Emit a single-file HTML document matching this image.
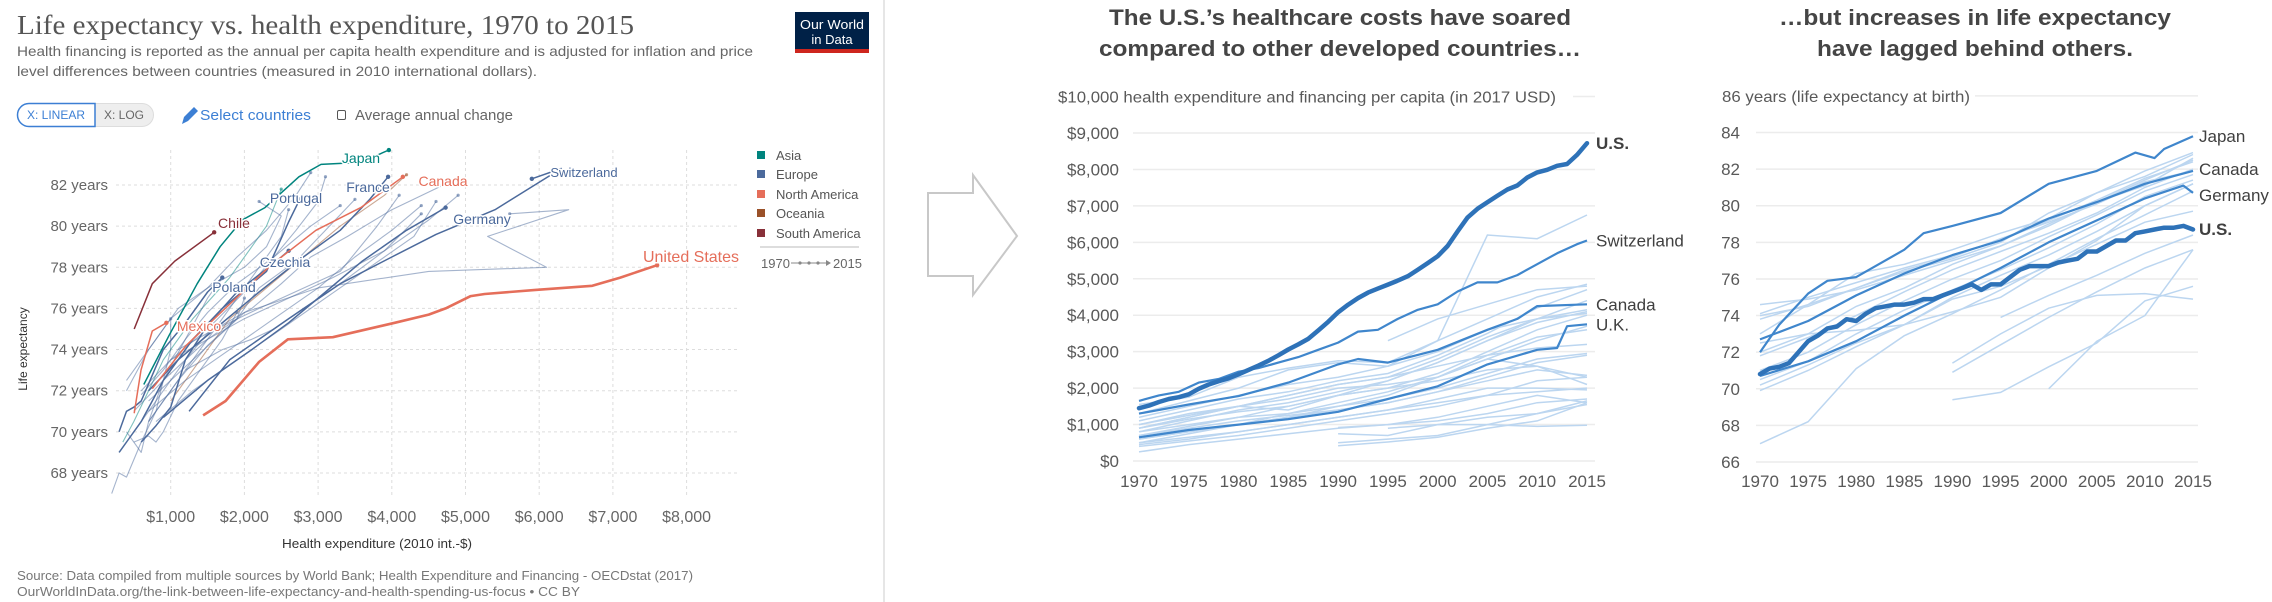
<!DOCTYPE html>
<html><head><meta charset="utf-8"><style>
html,body{margin:0;padding:0;background:#fff;overflow:hidden;width:2272px;height:602px;}
svg{display:block;font-family:"Liberation Sans",sans-serif;}
</style></head><body>
<svg id="root" width="2272" height="602" viewBox="0 0 2272 602" xmlns="http://www.w3.org/2000/svg">
<defs><clipPath id="leftClip"><rect x="100" y="140" width="650" height="362"/></clipPath></defs>
<!-- LEFT PANEL -->
<g>
<text x="17" y="34" font-family="Liberation Serif,serif" font-size="27" fill="#555" textLength="617" lengthAdjust="spacingAndGlyphs">Life expectancy vs. health expenditure, 1970 to 2015</text>
<text x="17" y="56" font-size="14" fill="#666" textLength="736" lengthAdjust="spacingAndGlyphs">Health financing is reported as the annual per capita health expenditure and is adjusted for inflation and price</text>
<text x="17" y="76" font-size="14" fill="#666" textLength="520" lengthAdjust="spacingAndGlyphs">level differences between countries (measured in 2010 international dollars).</text>
<g><rect x="795" y="12" width="74" height="41" fill="#002147"/><rect x="795" y="49" width="74" height="4" fill="#ce261e"/>
<text x="832" y="29" font-size="13" fill="#fff" text-anchor="middle" textLength="64" lengthAdjust="spacingAndGlyphs">Our World</text><text x="832" y="44" font-size="13" fill="#fff" text-anchor="middle">in Data</text></g>
<g><rect x="17.5" y="103.5" width="136" height="23" rx="11.5" fill="#eee" stroke="#ddd"/><path d="M29 103.5 H95 V126.5 H29 A11.5 11.5 0 0 1 29 103.5Z" fill="#fff" stroke="#3c7fd4" stroke-width="1.5"/><text x="56" y="119" font-size="11.5" fill="#3c7fd4" text-anchor="middle" textLength="58" lengthAdjust="spacingAndGlyphs">X: LINEAR</text></g>
<g><text x="124" y="119" font-size="11.5" fill="#666" text-anchor="middle" textLength="40" lengthAdjust="spacingAndGlyphs">X: LOG</text></g>
<g><path d="M182 124 L184 117 L194 107 L198 111 L188 121 Z" fill="#3c7fd4"/><text x="200" y="120" font-size="15" fill="#3c7fd4" textLength="111" lengthAdjust="spacingAndGlyphs">Select countries</text></g>
<g><rect x="337.5" y="110.5" width="8" height="9" rx="1.5" fill="none" stroke="#555"/><text x="355" y="120" font-size="15" fill="#666" textLength="158" lengthAdjust="spacingAndGlyphs">Average annual change</text></g>
<g id="leftAxes"></g>
<g id="leftPlot" clip-path="url(#leftClip)"></g>
<g id="leftLabels"></g>
<g>
<rect x="757" y="151" width="8" height="8" fill="#00847e"/><text x="776" y="160" font-size="13" fill="#555">Asia</text>
<rect x="757" y="170" width="8" height="8" fill="#4c6a9c"/><text x="776" y="179" font-size="13" fill="#555">Europe</text>
<rect x="757" y="190" width="8" height="8" fill="#e56e5a"/><text x="776" y="199" font-size="13" fill="#555">North America</text>
<rect x="757" y="209" width="8" height="8" fill="#9a5129"/><text x="776" y="218" font-size="13" fill="#555">Oceania</text>
<rect x="757" y="229" width="8" height="8" fill="#883039"/><text x="776" y="238" font-size="13" fill="#555">South America</text>
<line x1="760" y1="247" x2="859" y2="247" stroke="#ddd" stroke-width="2"/>
<text x="761" y="268" font-size="13" fill="#666">1970</text><line x1="791" y1="263" x2="826" y2="263" stroke="#888"/><path d="M826 260 L831 263 L826 266Z" fill="#888"/><circle cx="800" cy="263" r="1.6" fill="#888"/><circle cx="809" cy="263" r="1.6" fill="#888"/><circle cx="818" cy="263" r="1.6" fill="#888"/><text x="833" y="268" font-size="13" fill="#666">2015</text>
</g>
<text x="377" y="548" font-size="13" fill="#333" text-anchor="middle" textLength="190" lengthAdjust="spacingAndGlyphs">Health expenditure (2010 int.-$)</text>
<text transform="translate(27,349) rotate(-90)" font-size="12" fill="#333" text-anchor="middle">Life expectancy</text>
<text x="17" y="580" font-size="12.5" fill="#777" textLength="676" lengthAdjust="spacingAndGlyphs">Source: Data compiled from multiple sources by World Bank; Health Expenditure and Financing - OECDstat (2017)</text>
<text x="17" y="596" font-size="12.5" fill="#777" textLength="563" lengthAdjust="spacingAndGlyphs">OurWorldInData.org/the-link-between-life-expectancy-and-health-spending-us-focus • CC BY</text>
</g>
<line x1="884" y1="0" x2="884" y2="602" stroke="#e6e6e6" stroke-width="2"/>
<path d="M928 193 H973 V175 L1017 236 L973 295 V276 H928 Z" fill="#fff" stroke="#c8c8c8" stroke-width="2"/>
<!-- MIDDLE -->
<g>
<text x="1340" y="25" font-size="22" font-weight="bold" fill="#454545" text-anchor="middle" textLength="462" lengthAdjust="spacingAndGlyphs">The U.S.’s healthcare costs have soared</text>
<text x="1340" y="56" font-size="22" font-weight="bold" fill="#454545" text-anchor="middle" textLength="482" lengthAdjust="spacingAndGlyphs">compared to other developed countries…</text>
<g id="midPlot"></g>
</g>
<g>
<text x="1975" y="25" font-size="22" font-weight="bold" fill="#454545" text-anchor="middle" textLength="392" lengthAdjust="spacingAndGlyphs">…but increases in life expectancy</text>
<text x="1975" y="56" font-size="22" font-weight="bold" fill="#454545" text-anchor="middle" textLength="316" lengthAdjust="spacingAndGlyphs">have lagged behind others.</text>
<g id="rightPlot"></g>
</g>
</svg>
<script>
// ===== LEFT (OWID) DATA =====
const owidXTicks = [1000,2000,3000,4000,5000,6000,7000,8000];
const owidYTicks = [68,70,72,74,76,78,80,82];
const owidNames = ["United States","Japan","Canada","Mexico","Chile","Switzerland","Germany","France","Portugal","Czechia","Poland","Norway","Netherlands","Sweden","Austria","Belgium","Denmark","Italy","Spain","UK","Finland","Ireland","Greece","Hungary","Slovakia","Estonia","Slovenia","Korea","Australia","Turkey"];
const owidRegions = ["NA","AS","NA","NA","SA","EU","EU","EU","EU","EU","EU","EU","EU","EU","EU","EU","EU","EU","EU","EU","EU","EU","EU","EU","EU","EU","EU","AS","OC","EU"];
const owidSpend = [
 [1440,1745,2200,2590,3200,4040,4500,4730,5070,5260,5950,6720,7100,7600],
 [635,980,1360,1670,1970,2280,2740,3040,3580,3960],
 [750,1210,1740,2360,2970,3580,4150],
 [505,597,750,941],
 [505,750,1056,1590],
 [1250,1800,2600,3300,4000,4600,5400,6300,5900],
 [900,1500,2100,2600,3100,3600,4200,4730],
 [700,1100,1600,2200,2800,3300,3700,3950],
 [300,600,900,1300,1700,2300,2600,2750],
 [600,800,1000,1200,1500,1900,2400,2600],
 [300,400,500,600,900,1200,1500,1700],
 [700,1300,2000,3000,4500,6100,5300,6400,5600],
 [1000,1500,2000,2600,3200,3900,4500,4900],
 [1100,1600,2100,2500,2900,3400,4000,4700],
 [800,1300,1900,2500,3100,3700,4300,4600],
 [700,1200,1800,2400,3000,3500,4000,4400],
 [1200,1700,2100,2400,2800,3300,3900,4400],
 [600,1000,1500,2000,2400,2700,3000,3100],
 [400,700,1100,1500,1900,2300,2700,2900],
 [600,900,1200,1500,1900,2400,2900,3300],
 [700,1100,1500,1900,2200,2700,3100,3500],
 [500,900,1200,1500,2200,3300,3800,4100],
 [400,700,1000,1500,2000,2300,2500,2200],
 [500,700,800,900,1100,1400,1700,1900],
 [500,600,700,900,1200,1500,1900,2000],
 [400,500,600,700,900,1200,1500,1700],
 [700,900,1200,1600,1900,2200,2500,2600],
 [350,500,700,900,1300,1800,2300,2500],
 [1000,1400,1800,2300,2800,3300,3900,4200],
 [200,300,400,600,800,900,1000,1000]
];
const owidLife = [
 [70.8,71.5,73.4,74.5,74.6,75.3,75.7,76.0,76.6,76.7,76.9,77.1,77.5,78.1],
 [72.3,74.7,77.2,79.0,80.3,80.9,82.4,83.0,83.1,83.7],
 [72.1,74.2,76.0,78.1,79.8,80.9,82.4],
 [70.9,73.0,74.9,75.3],
 [75.0,77.2,78.3,79.7],
 [71.0,73.5,75.5,77.2,78.5,79.6,80.8,82.8,82.3],
 [70.7,72.5,74.0,75.3,76.8,78.3,79.8,80.9],
 [72.0,73.5,75.0,76.8,78.5,79.8,81.3,82.4],
 [69.0,70.5,72.5,74.5,76.0,77.8,80.2,81.3],
 [69.5,70.3,71.2,73.5,75.2,76.8,78.2,78.8],
 [70.0,71.0,71.2,71.5,74.0,75.3,76.8,77.5],
 [71.5,73.5,75.8,77.0,77.8,78.0,79.5,80.8,80.6],
 [73.5,74.5,75.5,76.5,77.5,78.8,80.3,81.5],
 [74.0,75.0,76.0,77.2,78.5,79.5,80.8,82.0],
 [70.5,72.0,73.5,75.0,76.5,78.0,79.5,81.2],
 [71.0,72.5,74.0,75.5,77.0,78.5,79.8,81.0],
 [73.0,74.0,74.5,75.0,76.0,77.2,78.8,80.6],
 [72.0,73.5,75.0,76.8,78.5,79.8,81.2,82.4],
 [72.0,74.0,76.0,77.0,78.5,79.8,81.5,82.6],
 [71.8,73.0,74.5,75.8,77.2,78.5,80.0,81.0],
 [70.5,72.5,74.2,75.5,77.0,78.3,79.8,81.3],
 [71.0,72.5,73.5,74.8,76.0,77.8,80.0,81.5],
 [72.5,74.0,75.5,77.0,78.0,79.0,80.5,81.2],
 [69.5,69.8,69.5,70.0,71.5,73.0,74.5,75.8],
 [70.0,70.5,71.0,72.0,73.5,74.5,75.5,76.5],
 [70.0,69.5,69.0,70.5,72.5,74.5,76.5,77.5],
 [70.5,71.5,73.0,75.0,76.5,78.0,79.5,80.8],
 [69.5,70.5,72.0,73.5,75.5,77.5,80.0,81.8],
 [71.5,73.5,75.5,77.0,78.5,80.0,81.5,82.5],
 [67.0,68.0,67.8,69.5,71.0,72.5,74.0,75.5]
];
const owidLabels = ["United States","Japan","Canada","Mexico","Chile","Switzerland","Germany","France","Portugal","Czechia","Poland"];
const owidLabelPos = [[691,262,16],[361,163,14],[443,186,14],[199,331,14],[234,228,14],[584,177,13],[482,224,14],[368,192,14],[296,203,14],[285,267,14],[234,292,14]];

// ===== MIDDLE DATA =====
const yearsAll = [];
for (let y=1970;y<=2015;y++) yearsAll.push(y);
const years5 = [1970,1975,1980,1985,1990,1995,2000,2005,2010,2015];
const spendTicks = [0,1000,2000,3000,4000,5000,6000,7000,8000,9000];
const spendUS = [1450,1520,1620,1700,1750,1830,1980,2100,2190,2270,2380,2500,2620,2750,2900,3060,3200,3350,3580,3820,4080,4290,4470,4620,4730,4840,4950,5070,5250,5430,5620,5900,6300,6680,6920,7100,7280,7450,7560,7780,7920,7990,8100,8150,8400,8720];
const spendSwissYears = [1970,1972,1974,1976,1978,1980,1982,1984,1986,1988,1990,1992,1994,1996,1998,2000,2002,2004,2006,2008,2010,2012,2014,2015];
const spendSwiss = [1650,1800,1900,2150,2250,2450,2550,2700,2850,3050,3250,3550,3600,3900,4150,4300,4650,4900,4900,5100,5400,5700,5950,6050];
const spendCanadaYears = [1970,1975,1980,1985,1990,1992,1995,2000,2005,2008,2010,2015];
const spendCanada = [1300,1550,1780,2150,2650,2800,2700,3050,3600,3900,4250,4300];
const spendUKYears = [1970,1975,1980,1985,1990,1995,2000,2005,2010,2012,2013,2015];
const spendUK = [650,850,1000,1150,1350,1700,2050,2650,3050,3100,3700,3750];
const spendOthers = [
 [1550,1750,2300,2550,2750,2700,3300,6200,6100,6750],
 [1200,1500,1800,2100,2300,2600,3300,3900,4500,4850],
 [1100,1400,1700,1900,2200,2400,2900,3500,4200,4700],
 [900,1200,1500,1800,2100,2300,2800,3400,3900,4400],
 [800,1100,1400,1600,1900,2200,2700,3300,3800,4100],
 [700,950,1200,1500,1800,2000,2400,3000,3600,4000],
 [1000,1300,1500,1700,2000,2100,2300,2800,3300,3700],
 [600,800,1000,1300,1600,1900,2300,2900,3400,3600],
 [900,1150,1350,1500,1800,2200,2700,3300,3900,4050],
 [1300,1650,2000,2500,2700,2600,3000,3600,3900,4150],
 [800,1000,1200,1300,1500,1700,2000,2400,2800,2950],
 [700,900,1100,1250,1400,1600,1900,2300,2700,2900],
 [900,1200,1500,1800,2100,2300,2600,2900,3100,3200],
 [600,800,1000,1200,1400,1600,1900,2200,2500,2350],
 [500,750,1000,1200,1500,1800,2300,2800,2600,2300],
 [1000,1250,1500,1400,1800,2000,2200,2500,2600,2100],
 [400,550,700,900,1100,1300,1500,1800,2200,2300],
 [500,650,800,1000,1200,1400,1600,1800,1900,2000],
 [250,450,600,750,900,1000,1200,1500,1800,1600],
 [null,null,null,null,750,700,1000,1200,1300,1650],
 [null,null,null,null,500,600,700,1000,1300,1550],
 [null,null,null,null,420,520,650,900,1100,1600],
 [null,null,null,null,null,900,1000,1000,950,980],
 [null,null,null,null,null,3300,3900,4300,4700,4800],
 [450,600,800,1000,1200,1400,1700,2000,2000,1950],
 [null,null,null,null,920,1000,1100,1300,1600,1700]
];

// ===== RIGHT DATA =====
const lifeTicks = [66,68,70,72,74,76,78,80,82,84];
const lifeUS = [70.8,71.1,71.2,71.4,72.0,72.6,72.9,73.3,73.4,73.8,73.7,74.1,74.4,74.5,74.6,74.6,74.7,74.9,74.9,75.1,75.3,75.5,75.7,75.4,75.7,75.7,76.1,76.5,76.7,76.7,76.7,76.9,77.0,77.1,77.5,77.5,77.8,78.1,78.1,78.5,78.6,78.7,78.8,78.8,78.9,78.7];
const lifeJapanYears = [1970,1972,1975,1977,1980,1985,1987,1990,1995,2000,2005,2009,2011,2012,2015];
const lifeJapan = [72.0,73.5,75.2,75.9,76.1,77.6,78.5,78.9,79.6,81.2,81.9,82.9,82.6,83.1,83.8];
const lifeCanadaYears = years5;
const lifeCanada = [72.7,73.7,75.1,76.3,77.3,78.1,79.3,80.2,81.2,81.9];
const lifeGermanyYears = [1970,1975,1980,1985,1990,1995,2000,2005,2010,2014,2015];
const lifeGermany = [70.7,71.5,72.6,74.0,75.3,76.6,78.0,79.2,80.4,81.1,80.7];
const lifeOthers = [
 [74.6,74.9,75.4,76.2,77.0,77.8,78.9,80.2,81.1,82.6],
 [74.1,75.0,75.8,76.6,77.3,78.1,79.2,80.3,81.5,82.4],
 [73.8,74.6,75.5,76.4,77.1,78.0,79.6,80.7,81.6,82.8],
 [73.0,74.6,76.3,76.8,77.6,78.5,79.3,80.7,81.9,82.9],
 [72.0,73.0,74.5,75.5,76.8,77.8,79.0,80.2,81.4,82.5],
 [71.8,72.8,74.0,75.3,76.5,77.5,78.5,79.6,81.0,82.0],
 [71.0,72.0,73.5,74.8,76.0,77.0,78.3,79.5,80.8,81.7],
 [70.5,71.5,73.0,74.3,75.4,76.5,77.7,79.0,80.5,81.4],
 [69.9,71.0,72.3,73.5,75.0,76.2,77.3,78.6,80.0,81.2],
 [70.2,71.3,72.5,73.5,74.9,75.6,76.7,77.9,79.1,79.7],
 [72.5,73.0,73.2,73.5,74.2,75.0,76.6,78.1,80.0,81.2],
 [67.0,68.2,71.1,72.9,74.1,75.4,76.8,78.2,79.5,80.8],
 [null,null,null,null,71.4,73.0,74.4,75.1,75.2,74.9],
 [null,null,null,null,70.9,72.4,73.9,75.3,76.6,77.6],
 [null,null,null,null,69.4,69.8,71.2,72.5,74.8,75.6],
 [null,null,null,null,null,null,70.0,72.6,74.0,77.6],
 [null,null,null,null,null,73.9,75.1,76.2,77.4,78.4],
 [74.0,74.5,75.5,76.5,77.2,78.2,79.1,80.1,81.3,81.9]
];

const NS = "http://www.w3.org/2000/svg";
function mk(parent, tag, attrs, text) {
  const e = document.createElementNS(NS, tag);
  for (const k in attrs) e.setAttribute(k, attrs[k]);
  if (text !== undefined) e.textContent = text;
  parent.appendChild(e);
  return e;
}
function pathFrom(xs, ys, fx, fy) {
  let d = "", pen = false;
  for (let i = 0; i < xs.length; i++) {
    if (ys[i] === null || xs[i] === null) { pen = false; continue; }
    d += (pen ? "L" : "M") + fx(xs[i]).toFixed(1) + " " + fy(ys[i]).toFixed(1);
    pen = true;
  }
  return d;
}

// ===== LEFT RENDER =====
(function(){
  const ga = document.getElementById("leftAxes");
  const g = document.getElementById("leftPlot");
  const gl = document.getElementById("leftLabels");
  const fx = v => 97 + v * 0.0737;
  const fy = v => 185 + (82 - v) * 20.57;
  const regionColor = {AS:"#00847e",EU:"#4c6a9c",NA:"#e56e5a",OC:"#9a5129",SA:"#883039"};
  owidYTicks.forEach(t => {
    const l = mk(ga, "line", {x1:116, x2:739, y1:fy(t), y2:fy(t), stroke:"#ddd", "stroke-dasharray":"3,3"});
    
    
    const tx = mk(ga, "text", {x:108, y:fy(t)+5, "font-size":15, fill:"#666", "text-anchor":"end"}, t + " years");
    
    
  });
  owidXTicks.forEach(t => {
    const l = mk(ga, "line", {x1:fx(t), x2:fx(t), y1:150, y2:496, stroke:"#ddd", "stroke-dasharray":"3,3"});
    
    
    const tx = mk(ga, "text", {x:fx(t), y:522, "font-size":16, fill:"#666", "text-anchor":"middle"}, "$" + t.toLocaleString("en-US"));
    
    
  });
  for (let i = owidSpend.length - 1; i >= 0; i--) {
    const hl = i < 11;
    const col = regionColor[owidRegions[i]];
    const p = mk(g, "path", {d:pathFrom(owidSpend[i], owidLife[i], fx, fy), fill:"none", stroke:col,
      "stroke-width": i === 0 ? 2.6 : (hl ? 1.5 : 1.1), "stroke-opacity": hl ? 1 : 0.5, "stroke-linejoin":"round"});
    
    
    const n = owidSpend[i].length - 1;
    const c = mk(g, "circle", {cx:fx(owidSpend[i][n]), cy:fy(owidLife[i][n]), r: hl ? 2.2 : 1.6, fill:col, "fill-opacity": hl ? 1 : 0.6});
    
    
  }
  owidLabels.forEach((name, i) => {
    const idx = owidNames.indexOf(name);
    const pos = owidLabelPos[i];
    const t = mk(gl, "text", {x:pos[0], y:pos[1], "font-size":pos[2], fill:regionColor[owidRegions[idx]], "text-anchor":"middle", stroke:"#fff", "stroke-width":3, "paint-order":"stroke"}, name);
    
    
  });
})();

// ===== MIDDLE RENDER =====
(function(){
  const g = document.getElementById("midPlot");
  const fx = y => 1139 + (y - 1970) * (1587 - 1139) / 45;
  const fy = v => 461 - v * (461 - 133) / 9000;
  spendTicks.forEach(t => {
    const l = mk(g, "line", {x1:1133, x2:1595, y1:fy(t), y2:fy(t), stroke:"#ececec", "stroke-width":1.5});
    
    
    const tx = mk(g, "text", {x:1119, y:fy(t)+6, "font-size":17, fill:"#595959", "text-anchor":"end"}, "$" + t.toLocaleString("en-US"));
    
    
  });
  const top = mk(g, "line", {x1:1573, x2:1595, y1:fy(10000), y2:fy(10000), stroke:"#ececec", "stroke-width":1.5});
  
  
  const al = mk(g, "text", {x:1058, y:fy(10000)+6, "font-size":16, fill:"#595959", textLength:498, lengthAdjust:"spacingAndGlyphs"}, "$10,000 health expenditure and financing per capita (in 2017 USD)");
  
  
  for (let y = 1970; y <= 2015; y += 5) {
    const tx = mk(g, "text", {x:fx(y), y:487, "font-size":17, fill:"#595959", "text-anchor":"middle"}, String(y));
    
    
  }
  spendOthers.forEach(s => {
    const p = mk(g, "path", {d:pathFrom(years5, s, fx, fy), fill:"none", stroke:"#bcd6f0", "stroke-width":1.5});
    
    
  });
  const hs = [[spendUKYears, spendUK, "uk"], [spendCanadaYears, spendCanada, "canada"], [spendSwissYears, spendSwiss, "switzerland"]];
  hs.forEach(h => {
    const p = mk(g, "path", {d:pathFrom(h[0], h[1], fx, fy), fill:"none", stroke:"#3f86cc", "stroke-width":2.2, "stroke-linejoin":"round"});
    
    
  });
  const us = mk(g, "path", {d:pathFrom(yearsAll, spendUS, fx, fy), fill:"none", stroke:"#2e72b8", "stroke-width":4.5, "stroke-linejoin":"round", "stroke-linecap":"round"});
  
  
  const labs = [["U.S.", spendUS[spendUS.length-1], true], ["Switzerland", spendSwiss[spendSwiss.length-1], false], ["Canada", spendCanada[spendCanada.length-1], false], ["U.K.", spendUK[spendUK.length-1], false]];
  labs.forEach(l => {
    const tx = mk(g, "text", {x:1596, y:fy(l[1])+6, "font-size":17, fill:"#404040", "font-weight": l[2] ? "bold" : "normal"}, l[0]);
    
    
  });
})();

// ===== RIGHT RENDER =====
(function(){
  const g = document.getElementById("rightPlot");
  const fx = y => 1760 + (y - 1970) * (2193 - 1760) / 45;
  const fy = v => 462 - (v - 66) * (462 - 132.5) / 18;
  lifeTicks.forEach(t => {
    const l = mk(g, "line", {x1:1756, x2:2198, y1:fy(t), y2:fy(t), stroke:"#ececec", "stroke-width":1.5});
    
    
    const tx = mk(g, "text", {x:1740, y:fy(t)+6, "font-size":17, fill:"#595959", "text-anchor":"end"}, String(t));
    
    
  });
  const top = mk(g, "line", {x1:1975, x2:2198, y1:fy(86), y2:fy(86), stroke:"#ececec", "stroke-width":1.5});
  
  
  const al = mk(g, "text", {x:1722, y:fy(86)+6, "font-size":16, fill:"#595959", textLength:248, lengthAdjust:"spacingAndGlyphs"}, "86 years (life expectancy at birth)");
  
  
  for (let y = 1970; y <= 2015; y += 5) {
    const tx = mk(g, "text", {x:fx(y), y:487, "font-size":17, fill:"#595959", "text-anchor":"middle"}, String(y));
    
    
  }
  lifeOthers.forEach(s => {
    const p = mk(g, "path", {d:pathFrom(years5, s, fx, fy), fill:"none", stroke:"#bcd6f0", "stroke-width":1.5});
    
    
  });
  const hs = [[lifeGermanyYears, lifeGermany, "germany"], [lifeCanadaYears, lifeCanada, "canada"], [lifeJapanYears, lifeJapan, "japan"]];
  hs.forEach(h => {
    const p = mk(g, "path", {d:pathFrom(h[0], h[1], fx, fy), fill:"none", stroke:"#3f86cc", "stroke-width":2.2, "stroke-linejoin":"round"});
    
    
  });
  const us = mk(g, "path", {d:pathFrom(yearsAll, lifeUS, fx, fy), fill:"none", stroke:"#2e72b8", "stroke-width":4.5, "stroke-linejoin":"round", "stroke-linecap":"round"});
  
  
  const labs = [["Japan", 136, false], ["Canada", 169, false], ["Germany", 195, false], ["U.S.", 229, true]];
  labs.forEach(l => {
    const tx = mk(g, "text", {x:2199, y:l[1]+6, "font-size":17, fill:"#404040", "font-weight": l[2] ? "bold" : "normal"}, l[0]);
    
    
  });
})();
</script>
</body></html>
